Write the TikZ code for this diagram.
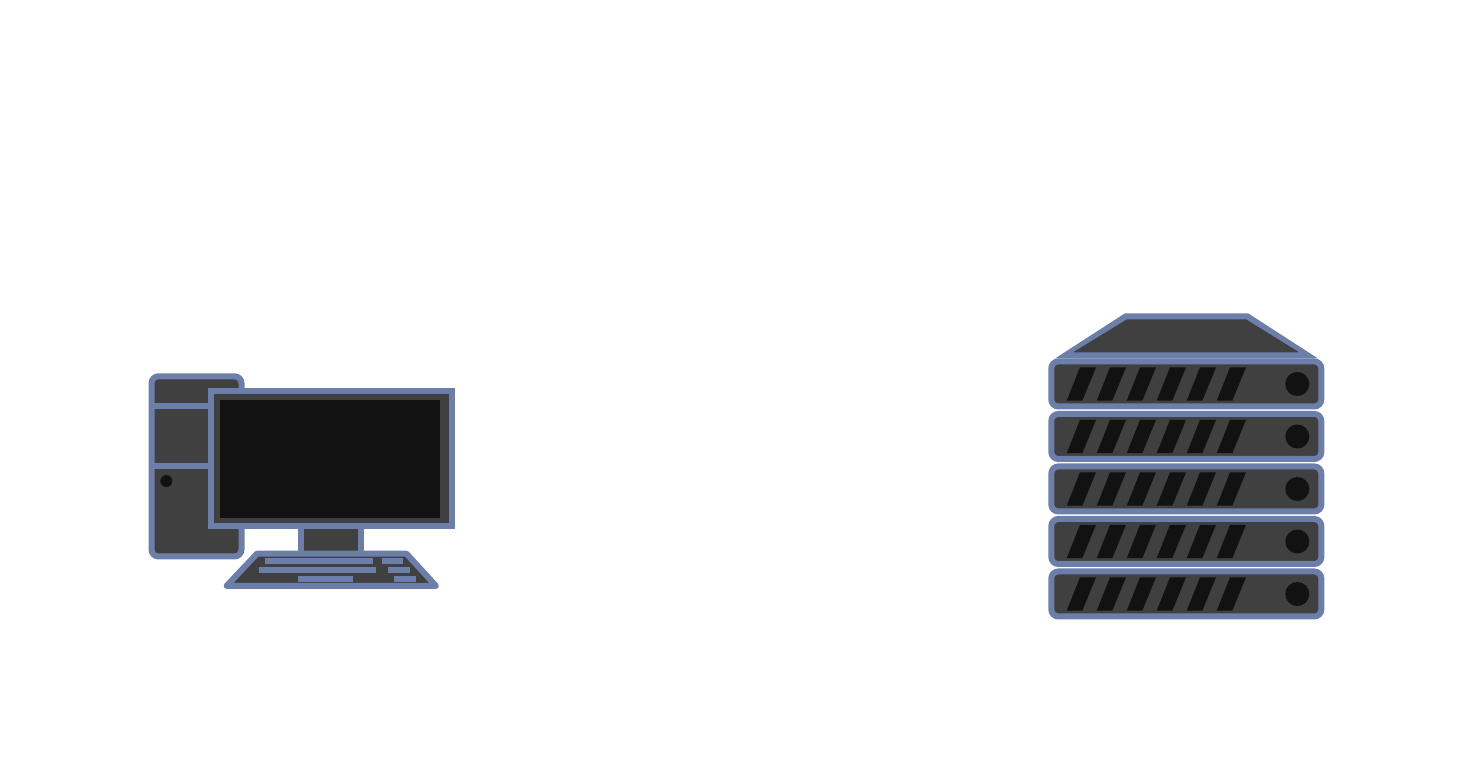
\documentclass[tikz,border=0pt]{standalone}
\definecolor{hwblue}{HTML}{6C7EAA}
\definecolor{hwgray}{HTML}{404040}
\definecolor{hwdark}{HTML}{121212}
\tikzset{
    part/.style={draw=hwblue,fill=hwgray,line width=0.06cm},
    hole/.style={fill=hwdark,draw=none},
    key/.style={fill=hwblue,draw=none},
    bar/.style={draw=hwblue,line width=0.06cm},
}
\begin{document}
\begin{tikzpicture}[x=0.01cm,y=-0.01cm]
\useasboundingbox (0,0) rectangle (1476,771);
% tower
\draw[part,rounded corners=0.07cm] (151.5,376.3) rectangle (241.5,556.5);
\draw[bar] (151.5,406.5) -- (241.5,406.5);
\draw[bar] (151.5,466.5) -- (241.5,466.5);
\fill[hole] (166.3,481) circle (0.06cm);
% stand and monitor
\draw[part] (301.3,520) rectangle (361.3,554);
\draw[part] (211.3,391.3) rectangle (451.7,526);
\fill[hole] (220,400) rectangle (440,517.7);
% keyboard
\draw[part,line join=round] (257,553.7) -- (406.5,553.7) -- (436,586) -- (226.5,586) -- cycle;
\fill[key] (265.3,557.7) rectangle (373.3,564);
\fill[key] (382.3,557.7) rectangle (403.3,564);
\fill[key] (259.3,567) rectangle (376.3,573);
\fill[key] (388.3,567) rectangle (409.7,573);
\fill[key] (298.3,575.7) rectangle (352.7,582);
\fill[key] (394.3,575.7) rectangle (415.7,582);
% server
\fill[hwblue] (1055,358.5) -- (1125,313.3) -- (1248,313.3) -- (1318,358.5) -- cycle;
\fill[hwgray] (1073,352.3) -- (1127,319.3) -- (1246,319.3) -- (1299,352.3) -- cycle;
\foreach \y in {384,436.5,489,541.5,594}{
    \draw[part,rounded corners=0.07cm] (1051.3,\y-22.5) rectangle (1321.3,\y+22.5);
    \foreach \x in {0,30,60,90,120,150}
        \fill[hole] (1066.7+\x,\y+16.7) -- (1082.3+\x,\y+16.7) -- (1096+\x,\y-16.7) -- (1080+\x,\y-16.7) -- cycle;
    \fill[hole] (1297.3,\y) circle (0.12cm);
}
\end{tikzpicture}
\end{document}
